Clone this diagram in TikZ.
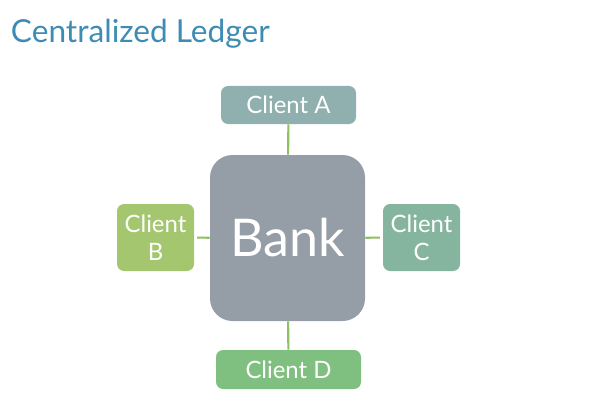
\documentclass[tikz,border=0pt]{standalone}
\usepackage{fontspec}
\setmainfont{Lato}
\usepackage{tikz}
\usetikzlibrary{calc}
\definecolor{titleblue}{RGB}{62,140,180}
\definecolor{linkgreen}{RGB}{140,192,96}
\definecolor{bankgray}{RGB}{149,157,166}
\definecolor{clienta}{RGB}{143,176,174}
\definecolor{clientb}{RGB}{164,198,110}
\definecolor{clientc}{RGB}{134,181,159}
\definecolor{clientd}{RGB}{127,191,127}
\tikzset{
	client/.style={text=white,font=\fontsize{17}{19}\selectfont,rounded corners=5pt,align=center,inner sep=0pt},
	link/.style={linkgreen,line width=1.5pt},
}
\begin{document}
\begin{tikzpicture}[x=0.025cm,y=-0.025cm]
		\useasboundingbox (0,0) rectangle (602,413);
		\node[anchor=base west,text=titleblue,font=\fontsize{22.5}{26}\selectfont] (title) at (6,43) {Centralized Ledger};
		\node[fill=bankgray,rounded corners=16pt,minimum width=155*0.025cm,minimum height=166*0.025cm,text=white,font=\fontsize{37}{40}\selectfont] (bank) at (287.5,238) {Bank};
		\node[client,fill=clienta,minimum width=135*0.025cm,minimum height=38*0.025cm] (A) at (288.5,105) {Client A};
		\node[client,fill=clientb,minimum width=77*0.025cm,minimum height=67*0.025cm] (B) at (155.5,237.5) {Client\\[1pt]B};
		\node[client,fill=clientc,minimum width=77*0.025cm,minimum height=67*0.025cm] (C) at (421.5,237.5) {Client\\[1pt]C};
		\node[client,fill=clientd,minimum width=145*0.025cm,minimum height=39*0.025cm] (D) at (288.5,369.5) {Client D};
		\draw[link] (A) -- (bank);
		\draw[link,shorten <=2pt] (B) -- (bank);
		\draw[link,shorten <=2pt] (C) -- (bank);
		\draw[link] (bank) -- (D);
	\end{tikzpicture}
\end{document}
